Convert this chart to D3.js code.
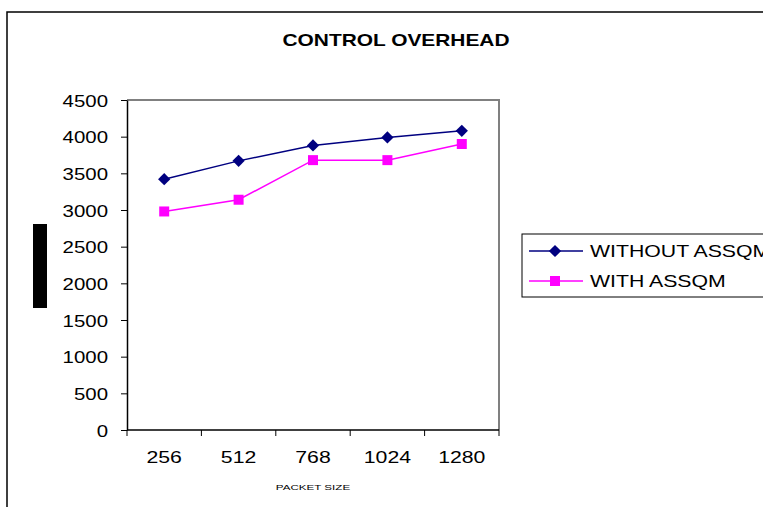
<!DOCTYPE html>
<html>
<head>
<meta charset="utf-8">
<script src="https://cdn.jsdelivr.net/npm/d3@7"></script>
<style>
  body { margin: 0; background: #fff; }
  text { font-family: "Liberation Sans", Arial, sans-serif; fill: #000; }
</style>
</head>
<body>
<svg id="chart" width="763" height="507"></svg>
<script>
// chart data
var packetSizes = ["256", "512", "768", "1024", "1280"];
var withoutAssqm = [3420, 3670, 3880, 3990, 4080];
var withAssqm = [2980, 3140, 3680, 3680, 3900];
var yTicks = [0, 500, 1000, 1500, 2000, 2500, 3000, 3500, 4000, 4500];
var seriesNames = ["WITHOUT ASSQM", "WITH ASSQM"];

var svg = d3.select("#chart");
var plot = { left: 127, right: 499, top: 100, bottom: 430 };

// the picture is stretched sideways, so widen the glyphs a bit
function stretch(sel, k) {
    sel.each(function () {
        var w = this.getComputedTextLength();
        d3.select(this).attr("textLength", w * k).attr("lengthAdjust", "spacingAndGlyphs");
    });
}

// outer frame
svg.append("rect")
    .attr("x", 7).attr("y", 12)
    .attr("width", 820).attr("height", 520)
    .attr("fill", "none").attr("stroke", "#000").attr("stroke-width", 1.5);

var x = d3.scaleBand()
    .domain(packetSizes)
    .range([plot.left, plot.right])
    .padding(0);

var y = d3.scaleLinear()
    .domain([0, 4500])
    .range([plot.bottom, plot.top]);

// plot area border (grey top and right)
svg.append("path")
    .attr("d", "M" + plot.left + "," + plot.top + "H" + plot.right + "V" + plot.bottom)
    .attr("fill", "none").attr("stroke", "#808080").attr("stroke-width", 2);

// Y-axis
var yAxis = svg.append("g")
    .attr("transform", "translate(" + plot.left + ",0)")
    .call(d3.axisLeft(y).tickValues(yTicks).tickFormat(d3.format("d"))
        .tickSize(6).tickSizeOuter(0).tickPadding(13));
yAxis.select(".domain").attr("stroke", "#000").attr("stroke-width", 1.5);
yAxis.selectAll("line").attr("stroke", "#000");
yAxis.selectAll("text")
    .style("font-family", "Liberation Sans, Arial, sans-serif")
    .style("font-size", "17px")
    .attr("dy", "0.36em")
    .call(stretch, 1.2);

// X-axis: ticks on band edges
var xAxis = svg.append("g")
    .attr("transform", "translate(0," + plot.bottom + ")");
xAxis.append("line")
    .attr("x1", plot.left).attr("x2", plot.right)
    .attr("stroke", "#000").attr("stroke-width", 1.5);
var edges = packetSizes.map(d => x(d)).concat([plot.right]);
xAxis.selectAll(".edge")
    .data(edges)
    .enter().append("line")
    .attr("class", "edge")
    .attr("x1", d => d).attr("x2", d => d)
    .attr("y1", 0).attr("y2", 6)
    .attr("stroke", "#000");
xAxis.selectAll(".lbl")
    .data(packetSizes)
    .enter().append("text")
    .attr("class", "lbl")
    .attr("x", d => x(d) + x.bandwidth() / 2)
    .attr("y", 33)
    .style("text-anchor", "middle")
    .style("font-size", "17px")
    .text(d => d)
    .call(stretch, 1.25);

// X-axis label
svg.append("text")
    .attr("x", (plot.left + plot.right) / 2)
    .attr("y", 490)
    .style("text-anchor", "middle")
    .style("font-size", "8px")
    .text("PACKET SIZE")
    .call(stretch, 1.45);

// Y-axis title (shows as a solid black bar)
svg.append("rect")
    .attr("x", 33).attr("y", 224)
    .attr("width", 14).attr("height", 84)
    .attr("fill", "#000");

// title
svg.append("text")
    .attr("x", 396)
    .attr("y", 46)
    .style("text-anchor", "middle")
    .style("font-size", "17px")
    .style("font-weight", "bold")
    .attr("textLength", 227)
    .attr("lengthAdjust", "spacingAndGlyphs")
    .text("CONTROL OVERHEAD");

var cx = d => x(d) + x.bandwidth() / 2;
var line = d3.line().x(d => cx(d[0])).y(d => y(d[1]));

var series = [
    { name: seriesNames[0], values: withoutAssqm, color: "#000080", shape: d3.symbolSquare, size: 75, rot: 45 },
    { name: seriesNames[1], values: withAssqm, color: "#FF00FF", shape: d3.symbolSquare, size: 100, rot: 0 }
];

series.forEach(function (s) {
    var pts = packetSizes.map((p, i) => [p, s.values[i]]);
    svg.append("path")
        .datum(pts)
        .attr("d", line)
        .attr("fill", "none")
        .attr("stroke", s.color)
        .attr("stroke-width", 1.5);
    svg.selectAll(null)
        .data(pts)
        .enter().append("path")
        .attr("d", d3.symbol().type(s.shape).size(s.size))
        .attr("transform", d => "translate(" + cx(d[0]) + "," + y(d[1]) + ") rotate(" + s.rot + ")")
        .attr("fill", s.color);
});

// Legend
svg.append("rect")
    .attr("x", 522).attr("y", 234)
    .attr("width", 300).attr("height", 63)
    .attr("fill", "#fff").attr("stroke", "#000").attr("stroke-width", 1);

var legend = svg.selectAll(".legend")
    .data(series)
    .enter().append("g")
    .attr("class", "legend")
    .attr("transform", (d, i) => "translate(0," + (251 + i * 30) + ")");

legend.append("line")
    .attr("x1", 529).attr("x2", 583)
    .attr("stroke", d => d.color).attr("stroke-width", 1.5);
legend.append("path")
    .attr("d", d => d3.symbol().type(d.shape).size(d.size)())
    .attr("transform", d => "translate(555,0) rotate(" + d.rot + ")")
    .attr("fill", d => d.color);
legend.append("text")
    .attr("x", 590)
    .attr("dy", "0.36em")
    .style("font-size", "17px")
    .text(d => d.name)
    .call(stretch, 1.25);
</script>
</body>
</html>
